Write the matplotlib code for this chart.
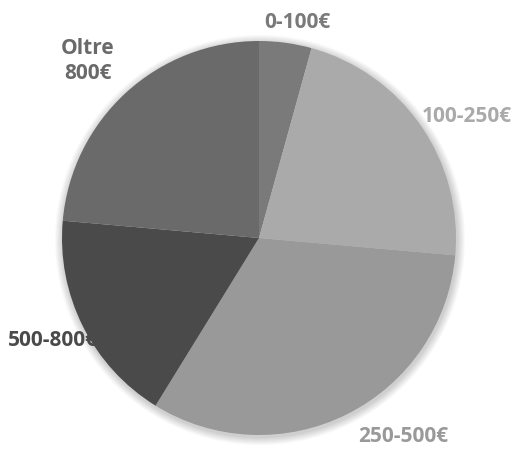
import matplotlib
matplotlib.use("Agg")
import matplotlib.pyplot as plt
from matplotlib.patches import Circle

labels = ["0-100€", "100-250€", "250-500€", "500-800€", "Oltre\n800€"]
values = [4.3, 22.1, 32.4, 17.6, 23.6]
colors = ["#7a7a7a", "#aaaaaa", "#999999", "#4a4a4a", "#6a6a6a"]

# layout (pixel coords, y measured from bottom)
label_pos = [(297, 428, "center"), (422, 334, "left"), (403, 13, "center"),
             (8, 110, "left"), (88, 389, "center")]

W, H = 511, 450
fig = plt.figure(figsize=(W / 100, H / 100), dpi=100)
ax = fig.add_axes([0, 0, 1, 1])

cx, cy, r = 259, 212, 197
for k in range(8, 0, -1):
    ax.add_patch(Circle((cx + 1, cy - 2), r + k, color="black", alpha=0.025, lw=0, zorder=0))

ax.pie(values, colors=colors, startangle=90, counterclock=False,
       center=(cx, cy), radius=r, frame=True,
       wedgeprops=dict(linewidth=0))
ax.set_xlim(0, W)
ax.set_ylim(0, H)
ax.axis("off")

for lab, col, (x, y, ha) in zip(labels, colors, label_pos):
    ax.text(x, y, lab, color=col, ha=ha, va="center", fontsize=15,
            fontweight="bold", family="Open Sans", linespacing=1.3, zorder=5)

fig.savefig("out.png", dpi=100)
